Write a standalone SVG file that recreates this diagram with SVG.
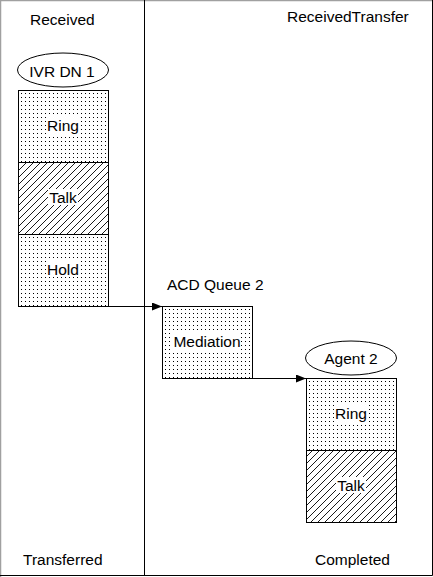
<svg xmlns="http://www.w3.org/2000/svg" width="433" height="577" viewBox="0 0 433 577">
<defs>
<pattern id="dots" width="4" height="4" patternUnits="userSpaceOnUse">
<rect width="4" height="4" fill="#fff"/>
<rect x="1" y="1" width="1" height="1" fill="#000"/>
</pattern>
<pattern id="hatch" width="7" height="7" patternUnits="userSpaceOnUse">
<rect width="7" height="7" fill="#fff"/>
<path d="M-1,8 L8,-1 M-2,2 L2,-2 M5,9 L9,5" stroke="#000" stroke-width="0.9"/>
</pattern>
<marker id="arr" markerWidth="10" markerHeight="8" refX="10" refY="4" orient="auto" markerUnits="userSpaceOnUse">
<path d="M0,0 L10,4 L0,8 Z" fill="#000"/>
</marker>
</defs>
<style>
text{font-family:"Liberation Sans",Arial,sans-serif;font-size:15.5px;fill:#000}
.c{text-anchor:middle}
.box{stroke:#000;stroke-width:1}
.dot{fill:url(#dots)}
.hat{fill:url(#hatch)}
.lbl{fill:#fff}
.ln{stroke:#000;stroke-width:1.2;fill:none}
</style>
<rect width="433" height="577" fill="#fff"/>
<g id="frame">
<path d="M0.5,577 V0.5 H433" stroke="#a0a0a0" stroke-width="1.5" fill="none"/>
<path d="M432.5,0 V575.5 H0" stroke="#000" stroke-width="1" fill="none"/>
<line x1="144.5" y1="0" x2="144.5" y2="576" stroke="#000" stroke-width="1"/>
</g>
<g id="headers">
<text x="30" y="25">Received</text>
<text x="287" y="22">ReceivedTransfer</text>
<text x="23" y="565">Transferred</text>
<text x="315" y="565">Completed</text>
</g>
<g id="ivr">
<ellipse cx="63" cy="70" rx="45.5" ry="17" fill="#fff" stroke="#000"/>
<text class="c" x="62" y="77">IVR DN 1</text>
<rect class="box dot" x="18.5" y="90.5" width="90" height="72"/>
<rect class="lbl" x="46" y="117" width="34" height="18"/>
<text class="c" x="63" y="131">Ring</text>
<rect class="box hat" x="18.5" y="162.5" width="90" height="72"/>
<rect class="lbl" x="48" y="189" width="30" height="16"/>
<text class="c" x="63" y="203">Talk</text>
<rect class="box dot" x="18.5" y="234.5" width="90" height="72"/>
<rect class="lbl" x="46" y="261" width="34" height="16"/>
<text class="c" x="63" y="275">Hold</text>
</g>
<g id="acd">
<text x="167" y="290">ACD Queue 2</text>
<rect class="box dot" x="162.5" y="306.5" width="90" height="72"/>
<rect class="lbl" x="173" y="333" width="68" height="17"/>
<text class="c" x="207" y="347">Mediation</text>
</g>
<g id="agent">
<ellipse cx="351" cy="358" rx="45.5" ry="17" fill="#fff" stroke="#000"/>
<text class="c" x="351" y="364">Agent 2</text>
<rect class="box dot" x="306.5" y="378.5" width="90" height="72"/>
<rect class="lbl" x="334" y="405" width="34" height="18"/>
<text class="c" x="351" y="419">Ring</text>
<rect class="box hat" x="306.5" y="450.5" width="90" height="72"/>
<rect class="lbl" x="336" y="477" width="30" height="16"/>
<text class="c" x="351" y="491">Talk</text>
</g>
<g id="connectors">
<line class="ln" x1="108.5" y1="306.5" x2="162" y2="306.5" marker-end="url(#arr)"/>
<line class="ln" x1="252.5" y1="378.5" x2="306" y2="378.5" marker-end="url(#arr)"/>
</g>
</svg>
